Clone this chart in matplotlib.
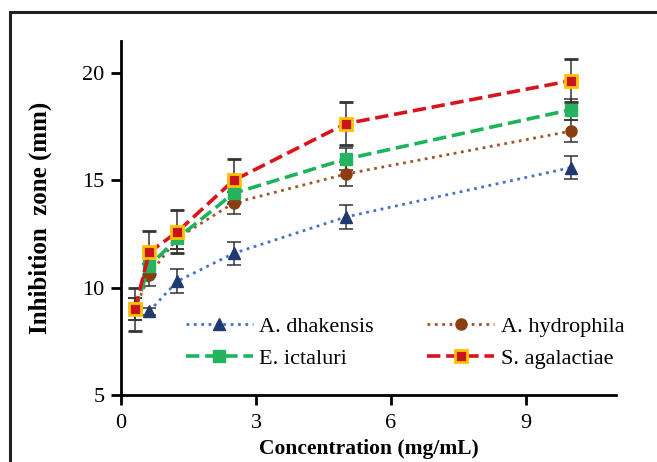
import numpy as np
import matplotlib.pyplot as plt
from matplotlib.patches import Rectangle

# Konzentrationen (mg/mL), zweifache Verduennung
conc_full = [0.3125, 0.625, 1.25, 2.5, 5, 10]
conc_dha = [0.625, 1.25, 2.5, 5, 10]

dhakensis = [8.9, 10.3, 11.6, 13.3, 15.6]
dhakensis_err = [0.15, 0.55, 0.55, 0.55, 0.55]

hydrophila = [9.0, 10.6, 12.3, 13.95, 15.3, 17.3]
hydrophila_err = [0.5, 0.5, 0.5, 0.5, 0.55, 0.5]

ictaluri = [9.0, 11.0, 12.3, 14.4, 16.0, 18.3]
ictaluri_err = [0.5, 0.5, 0.5, 0.5, 0.5, 0.5]

agalactiae = [9.0, 11.65, 12.6, 15.0, 17.65, 19.65]
agalactiae_err = [1.0, 1.0, 1.0, 1.0, 1.0, 1.0]

labels = ["A. dhakensis", "A. hydrophila", "E. ictaluri", "S. agalactiae"]

plt.rcParams['font.family'] = ['Liberation Serif', 'DejaVu Serif']

fig = plt.figure(figsize=(6.57, 4.62), dpi=100)
fig.patches.append(Rectangle((10 / 657, -0.1), 1.2, 1 - 12 / 462 + 0.1,
                             transform=fig.transFigure, fill=False,
                             edgecolor='#222222', linewidth=2.2))
ax = fig.add_axes([121 / 657, 67 / 462, 495 / 657, 354 / 462])

err_kw = dict(ecolor='#333333', elinewidth=1.1, capsize=5, capthick=1.1)

ax.errorbar(conc_dha, dhakensis, yerr=dhakensis_err, color='#4472C4',
            linestyle=':', linewidth=2, marker='^', markersize=8,
            markerfacecolor='#1F3A6E', markeredgecolor='#1F3A6E',
            label=labels[0], **err_kw)
ax.errorbar(conc_full, hydrophila, yerr=hydrophila_err, color='#A0552A',
            linestyle=':', linewidth=2, marker='o', markersize=8,
            markerfacecolor='#8B3E0F', markeredgecolor='#8B3E0F',
            label=labels[1], **err_kw)
ax.errorbar(conc_full, ictaluri, yerr=ictaluri_err, color='#1DB35A',
            linestyle='--', linewidth=2.6, marker='s', markersize=8,
            markerfacecolor='#25B35F', markeredgecolor='#25B35F',
            label=labels[2], **err_kw)
ax.errorbar(conc_full, agalactiae, yerr=agalactiae_err, color='#D9141B',
            linestyle='--', linewidth=2.6, marker='s', markersize=9,
            markerfacecolor='#C8141B', markeredgecolor='#FFC000',
            markeredgewidth=2, label=labels[3], **err_kw)

ax.set_xlim(0, 11)
ax.set_ylim(5, 21.5)
ax.set_xticks([0, 3, 6, 9])
ax.set_yticks([5, 10, 15, 20])
ax.spines['top'].set_visible(False)
ax.spines['right'].set_visible(False)
for s in ['left', 'bottom']:
    ax.spines[s].set_linewidth(2)
ax.tick_params(direction='out', length=7, width=2, labelsize=16)
ax.tick_params(axis='x', pad=7)
ax.tick_params(axis='y', pad=5)

ax.set_xlabel("Concentration (mg/mL)", fontsize=15.5, fontweight='bold')
ax.xaxis.set_label_coords(0.5, -0.125)
ax.set_ylabel("Inhibition  zone (mm)", fontsize=18, fontweight='bold')
ax.yaxis.set_label_coords(-0.14, 0.5)

handles, labs = ax.get_legend_handles_labels()
handles = [h[0] for h in handles]
order = [0, 2, 1, 3]
ax.legend([handles[i] for i in order], [labs[i] for i in order], ncol=2,
          loc='lower left', bbox_to_anchor=(0.1, 0.03),
          frameon=False, fontsize=16, handlelength=3.0, columnspacing=2.4,
          handletextpad=0.3, labelspacing=0.5, borderpad=0.2)

fig.savefig("out.png", dpi=100)
